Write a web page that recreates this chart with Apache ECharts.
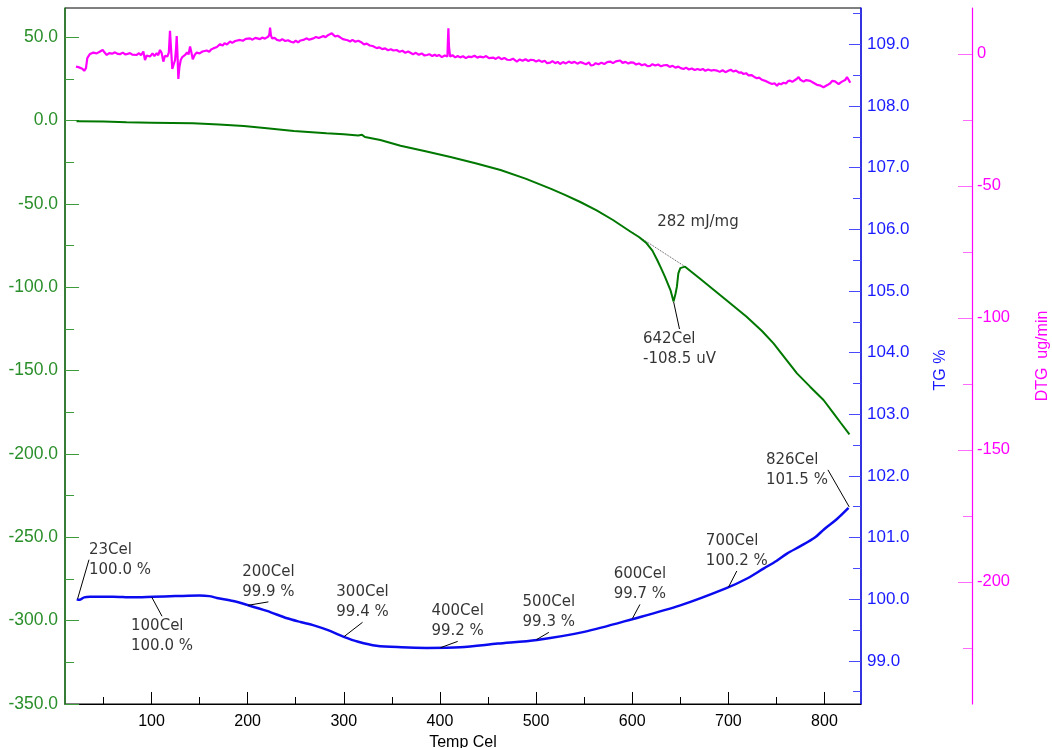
<!DOCTYPE html>
<html>
<head>
<meta charset="utf-8">
<script src="https://cdn.jsdelivr.net/npm/echarts@6/dist/echarts.min.js"></script>
<style>
html,body{margin:0;padding:0;background:#fff;}
#chart{width:1052px;height:748px;}
</style>
</head>
<body>
<div id="chart"></div>
<script>
// ---------- data ----------
const xTicks = [100, 200, 300, 400, 500, 600, 700, 800];
const xMinorTicks = [50, 150, 250, 350, 450, 550, 650, 750];
const dtaTicks = [-350, -300, -250, -200, -150, -100, -50, 0, 50];
const dtaMinorTicks = [-325, -275, -225, -175, -125, -75, -25, 25];
const tgTicks = [99, 100, 101, 102, 103, 104, 105, 106, 107, 108, 109];
const tgMinorTicks = [98.5, 99.5, 100.5, 101.5, 102.5, 103.5, 104.5, 105.5, 106.5, 107.5, 108.5, 109.5];
const dtgTicks = [-200, -150, -100, -50, 0];
const dtgMinorTicks = [-225, -175, -125, -75, -25];

// DTA (uV) vs Temp (Cel)
const dtaData = [
  [22,-0.3],[50,-0.5],[74,-1.0],[100,-1.2],[143,-1.6],[170,-2.3],[196,-3.2],[220,-4.5],[248,-6.2],
  [282,-7.6],[300,-8.2],[315,-8.9],[319,-8.5],[322,-9.8],[338,-11.6],[359,-15.0],[385,-18.3],
  [411,-21.8],[437,-25.5],[463,-29.6],[489,-34.8],[515,-40.8],[530,-44.5],[546,-48.8],[563,-53.8],[580,-59.6],
  [598,-66.5],[607,-69.8],[615,-73.6],[621,-78],[626,-83.6],[630,-88.5],[634,-93.6],[637,-97.8],
  [640,-102],[643,-108.5],[645,-104],[646.5,-99.6],[648,-91.6],[650,-88.5],[652,-87.4],[655,-87.6],
  [670,-94.6],[685,-101.6],[700,-108.6],[719,-117.6],[735,-126.2],[747,-133.6],[760,-143.2],
  [771.4,-151.6],[785,-159.6],[799,-167.6],[809.5,-175.6],[817,-181.4],[826,-188.2]
];
// peak integration baseline
const dtaBaseline = [[601,-67.4],[654,-87.2]];

// TG (%) vs Temp (Cel)
const tgData = [
  [22.2,100.00],[25,99.99],[30,100.03],[36,100.04],[60,100.04],[80,100.03],[102,100.04],[125,100.05],
  [150,100.06],[160,100.05],[168,100.02],[185,99.97],[199,99.91],[220,99.81],[241,99.69],[255,99.63],
  [268,99.58],[285,99.49],[300,99.39],[315,99.31],[334,99.245],[360,99.22],[386,99.21],[421,99.22],
  [460,99.28],[501,99.34],[550,99.47],[601,99.68],[650,99.90],[698,100.18],[720,100.34],[737,100.50],
  [750,100.62],[761,100.74],[775,100.86],[790,101.00],[800,101.14],[813,101.30],[825,101.48]
];

// DTG (ug/min) vs Temp (Cel)
const dtgData = [
  [21.4,-4.8],[24,-5.0],[26,-5.3],[28,-5.6],[30,-6.4],[31.8,-5.4],[33.2,-1.6],[36,0.0],[39.4,0.5],
  [43,0.2],[46,0.8],[49.2,1.5],[51,0.6],[53.4,-0.4],[56,0.3],[59,0.1],[62,0.6],[65,0.0],[67.2,-0.1],
  [70,0.5],[73,-0.2],[75,0.4],[77.6,0.3],[80,-0.3],[82,0.2],[84.6,-0.4],[87,0.3],[89,-0.5],[91.5,0.9],
  [93.2,-2.3],[95,-0.6],[98.4,-1.0],[101,0.2],[103,-0.8],[105.4,0.3],[107,-0.5],[108.8,1.5],[110.5,0.4],
  [112.3,-2.9],[114,-0.7],[116.4,-1.0],[118,0.5],[119.2,8.8],[120.3,2],[121.6,-5.7],[123,-4],[124.5,-2.3],
  [125.5,2],[126.2,6.8],[127,0],[127.9,-9.5],[129,-5],[130.4,-2.3],[132,-1.2],[134.9,-0.4],[137,0.6],
  [138.5,-0.2],[140.1,2.8],[141.5,0.5],[142.9,-2.0],[145,-0.3],[147,0.5],[150,0.2],[153,0.9],[155,0.4],
  [157.4,1.3],[160,0.8],[162,1.7],[164.3,2.1],[166,1.5],[168,2.6],[171.3,3.7],[174,3.2],[176,4.1],
  [178.5,3.6],[181.7,4.7],[184,4.2],[187,4.9],[189,4.4],[192.1,5.3],[195,5.0],[198,5.7],[200,5.3],
  [202.5,5.9],[205,5.4],[208,6.1],[210,5.5],[212.9,5.6],[215,6.2],[218,5.8],[221.6,6.6],[222.6,7.5],
  [223.3,10.0],[224.2,7.0],[225.4,5.9],[228,6.1],[230.5,5.3],[233.7,5.0],[236,5.6],[239,4.9],[242,5.2],
  [245,4.6],[247.6,4.3],[250,5.0],[252.5,4.4],[255,5.1],[258,5.3],[261,5.9],[264,5.4],[266,6.1],
  [268.4,5.9],[271,6.4],[274,6.0],[276,6.7],[278.8,6.8],[281,6.3],[283.5,7.1],[285.5,6.9],[287.5,7.8],
  [289,7.2],[291,6.6],[293.5,6.9],[296.2,6.3],[299,5.6],[301,6.0],[304,5.2],[306.6,4.7],[309,5.3],
  [312,4.6],[315,5.0],[318.7,4.3],[321,3.6],[324,3.9],[327,3.2],[330,3.0],[332,2.6],[334.3,2.2],
  [337,2.5],[340,1.8],[343,2.1],[346,1.4],[349,1.8],[351.6,1.3],[355,1.5],[358,0.8],[361,1.2],[364,0.4],
  [367,0.9],[369,0.5],[372,-0.1],[375,0.4],[378,-0.3],[381,0.2],[384,-0.6],[386.4,-0.4],[389,-0.1],
  [392,-0.8],[394.5,-0.3],[396.8,-0.8],[399,-0.4],[402,-1.2],[405,-0.6],[407.8,-1.0],[408.3,5.0],
  [408.8,9.7],[409.4,3.0],[410.6,-1.0],[413,-0.5],[416,-1.3],[418.5,-0.8],[421,-1.3],[424,-0.9],
  [427,-1.6],[430,-1.0],[433,-1.2],[436,-0.7],[439,-1.4],[441.8,-1.0],[445.3,-1.3],[448,-0.8],[451,-1.6],
  [453,-1.1],[455.7,-1.4],[458,-1.9],[461,-1.2],[464,-2.0],[467,-1.5],[470,-2.2],[473,-2.3],[476,-1.8],
  [478,-2.5],[480,-2.9],[483,-2.1],[486,-2.6],[489,-2.0],[492,-2.7],[494.5,-2.2],[497.3,-2.3],[500,-2.9],
  [503,-2.4],[506,-3.0],[509,-2.6],[511.5,-3.5],[514.7,-3.3],[517,-2.7],[520,-3.5],[522.5,-3.0],[525,-3.8],
  [528,-3.1],[531,-3.6],[534,-2.9],[537,-3.4],[540,-3.0],[543,-3.7],[546,-3.1],[549.3,-3.5],[552,-3.9],
  [555,-3.2],[557,-4.4],[559.7,-4.2],[562,-3.5],[565,-3.9],[568,-3.3],[571,-3.8],[574,-3.1],[577.1,-2.9],
  [580,-3.5],[583,-2.8],[585,-3.4],[587.5,-2.5],[590,-3.4],[593,-3.0],[596,-3.6],[598.5,-3.2],[601.3,-3.3],
  [604,-4.0],[607,-3.6],[610,-4.3],[613,-3.9],[616,-4.6],[618.7,-4.5],[621,-3.9],[624,-4.4],[627,-4.0],
  [630,-4.7],[633,-4.3],[636.1,-4.2],[639,-4.9],[642,-4.5],[645,-5.2],[648,-4.8],[650.5,-5.4],[653.4,-5.7],
  [656,-5.2],[659,-5.9],[662,-5.5],[665,-6.1],[668,-5.7],[670.8,-6.1],[673.5,-5.7],[676,-6.4],[679,-5.9],
  [682,-6.3],[685,-6.1],[688.1,-6.3],[691,-6.8],[694,-6.2],[697,-6.9],[700,-6.4],[702.5,-6.0],[705.4,-6.7],
  [708,-6.3],[711,-7.1],[713.5,-7.0],[715.8,-7.6],[718.5,-7.3],[721,-8.1],[724,-8.0],[727,-8.7],[729.8,-9.2],
  [732,-9.0],[735,-9.8],[737.5,-10.1],[740.2,-10.5],[743,-11.0],[745.5,-11.4],[748,-11.1],[750.6,-12.1],
  [752.5,-11.2],[755,-11.5],[757.5,-10.9],[760,-11.2],[762,-10.3],[764.4,-10.1],[766.5,-10.6],[768.5,-9.9],
  [771,-9.5],[773.1,-8.8],[775,-9.8],[778.3,-10.5],[781,-9.9],[783,-10.6],[785.2,-10.2],[788,-10.8],
  [790,-11.3],[792.2,-11.7],[795,-11.9],[797,-12.3],[799,-12.6],[801,-12.0],[803,-11.8],[806,-11.1],
  [808,-10.2],[809.5,-9.6],[811,-10.4],[813,-11.0],[814.7,-11.4],[816.5,-10.9],[818.2,-10.5],[820,-10.9],
  [821.5,-9.9],[823.4,-8.8],[825,-9.7],[826.8,-10.9]
];

// TG annotations
const tgMarkTemps = [23, 100, 200, 300, 400, 500, 600, 700, 826];
const tgMarkValues = [100.0, 100.04, 99.9, 99.39, 99.21, 99.34, 99.68, 100.19, 101.49];
const tgMarkLabels = ['23Cel\n100.0 %', '100Cel\n100.0 %', '200Cel\n99.9 %', '300Cel\n99.4 %', '400Cel\n99.2 %',
                      '500Cel\n99.3 %', '600Cel\n99.7 %', '700Cel\n100.2 %', '826Cel\n101.5 %'];
// DTA annotations
const dtaPeak = [643, -108.5];
const dtaPeakLabel = '642Cel\n-108.5 uV';
const dtaAreaAnchor = [627.5, -77.3];
const dtaAreaLabel = '282 mJ/mg';

// ---------- layout (label offsets in px) ----------
const tgLabelOffsets = [[12,-59],[-20,20],[-5,-43],[-7,-54],[-8,-46],[-13,-47],[-18,-54],[-22,-56],[-83,-57]];

const GREEN_AX = '#1f7d1f', GREEN_TXT = '#2a8f2a', GREEN_LINE = '#007800';
const BLUE = '#1a1aff', BLUE_LINE = '#0b0bf0';
const MAG = '#ff00ff';
const AXFONT = 'Liberation Sans, Arial, sans-serif';
const ANFONT = 'DejaVu Sans, Verdana, sans-serif';

const chart = echarts.init(document.getElementById('chart'));

function yMinor(extra) {
  return Object.assign({
    type: 'value', axisLine: {show: false, onZero: false}, axisLabel: {show: false}, splitLine: {show: false}
  }, extra);
}

const option = {
  animation: false,
  backgroundColor: '#fff',
  grid: {left: 65, right: 191, top: 8, bottom: 44, show: true, borderColor: '#000', borderWidth: 1,
         backgroundColor: 'transparent', outerBoundsMode: 'none'},
  xAxis: [
    {
      type: 'value', min: 10, max: 838, position: 'bottom',
      axisLine: {show: true, onZero: false, lineStyle: {color: '#000', width: 1}},
      axisTick: {show: true, inside: true, length: 12, customValues: xTicks, lineStyle: {color: '#000'}},
      axisLabel: {customValues: xTicks, margin: 10, color: '#000', fontSize: 16, fontFamily: AXFONT},
      splitLine: {show: false},
      name: 'Temp Cel', nameLocation: 'middle', nameGap: 27,
      nameTextStyle: {color: '#000', fontSize: 16, fontFamily: AXFONT}
    },
    {
      type: 'value', min: 10, max: 838, position: 'bottom',
      axisLine: {show: false, onZero: false},
      axisTick: {show: true, inside: true, length: 7, customValues: xMinorTicks, lineStyle: {color: '#000'}},
      axisLabel: {show: false}, splitLine: {show: false}
    }
  ],
  yAxis: [
    {
      type: 'value', position: 'left', min: -350, max: 67.6,
      axisLine: {show: true, onZero: false, lineStyle: {color: GREEN_AX, width: 1.5}},
      axisTick: {show: true, inside: true, length: 14, customValues: dtaTicks, lineStyle: {color: '#3c9c3c'}},
      axisLabel: {customValues: dtaTicks, margin: 7, color: GREEN_TXT, fontSize: 17.5, fontFamily: AXFONT,
                  formatter: v => v.toFixed(1)},
      splitLine: {show: false}
    },
    yMinor({position: 'left', min: -350, max: 67.6,
      axisTick: {show: true, inside: true, length: 9, customValues: dtaMinorTicks, lineStyle: {color: '#3c9c3c'}}}),
    {
      type: 'value', position: 'right', min: 98.3, max: 109.59,
      axisLine: {show: true, onZero: false, lineStyle: {color: BLUE, width: 1.5}},
      axisTick: {show: true, inside: true, length: 12, customValues: tgTicks, lineStyle: {color: '#4848ff'}},
      axisLabel: {customValues: tgTicks, margin: 6, color: BLUE, fontSize: 17, fontFamily: AXFONT,
                  formatter: v => v.toFixed(1)},
      splitLine: {show: false},
      name: 'TG %', nameLocation: 'middle', nameGap: 72, nameRotate: 90,
      nameTextStyle: {color: BLUE, fontSize: 16, fontFamily: AXFONT, padding: [0, 28, 0, 0]}
    },
    yMinor({position: 'right', min: 98.3, max: 109.59,
      axisTick: {show: true, inside: true, length: 8, customValues: tgMinorTicks, lineStyle: {color: '#4848ff'}}}),
    {
      type: 'value', position: 'right', offset: 111, min: -246.3, max: 17.4,
      axisLine: {show: true, onZero: false, lineStyle: {color: MAG, width: 1.2}},
      axisTick: {show: true, inside: true, length: 14, customValues: dtgTicks, lineStyle: {color: '#ff6cff'}},
      axisLabel: {customValues: dtgTicks, margin: 5, color: MAG, fontSize: 16.5, fontFamily: AXFONT,
                  formatter: v => String(v)},
      splitLine: {show: false},
      name: 'DTG  ug/min', nameLocation: 'middle', nameGap: 63, nameRotate: 90,
      nameTextStyle: {color: MAG, fontSize: 16, fontFamily: AXFONT}
    },
    yMinor({position: 'right', offset: 111, min: -246.3, max: 17.4,
      axisTick: {show: true, inside: true, length: 9, customValues: dtgMinorTicks, lineStyle: {color: '#ff6cff'}}})
  ],
  series: [
    {
      name: 'DTG', type: 'line', xAxisIndex: 0, yAxisIndex: 4, data: dtgData,
      showSymbol: false, symbol: 'none', lineStyle: {color: MAG, width: 2.2}, z: 2
    },
    {
      name: 'DTA', type: 'line', xAxisIndex: 0, yAxisIndex: 0, data: dtaData,
      showSymbol: false, symbol: 'none', lineStyle: {color: GREEN_LINE, width: 2}, z: 3
    },
    {
      name: 'DTA baseline', type: 'line', xAxisIndex: 0, yAxisIndex: 0, data: dtaBaseline,
      showSymbol: false, symbol: 'none', lineStyle: {color: '#555', width: 1, type: 'dotted'}, z: 2
    },
    {
      name: 'TG', type: 'line', xAxisIndex: 0, yAxisIndex: 2, data: tgData,
      showSymbol: false, symbol: 'none', smooth: 0.3, lineStyle: {color: BLUE_LINE, width: 2.5}, z: 3
    },
    {
      name: 'TG marks', type: 'scatter', xAxisIndex: 0, yAxisIndex: 2,
      data: tgMarkTemps.map((t, i) => [t, tgMarkValues[i]]),
      symbolSize: 1, itemStyle: {color: 'rgba(0,0,0,0)'}, z: 5,
      label: {show: true, position: [0, 0], align: 'left', verticalAlign: 'top',
              formatter: p => tgMarkLabels[p.dataIndex],
              color: '#000', fontSize: 15, lineHeight: 20, fontFamily: ANFONT},
      labelLine: {show: true, lineStyle: {color: '#000', width: 1}},
      labelLayout: p => ({dx: tgLabelOffsets[p.dataIndex][0], dy: tgLabelOffsets[p.dataIndex][1]})
    },
    {
      name: 'DTA peak', type: 'scatter', xAxisIndex: 0, yAxisIndex: 0,
      data: [dtaPeak],
      symbolSize: 1, itemStyle: {color: 'rgba(0,0,0,0)'}, z: 5,
      label: {show: true, position: [0, 0], align: 'left', verticalAlign: 'top',
              formatter: () => dtaPeakLabel,
              color: '#000', fontSize: 15, lineHeight: 20, fontFamily: ANFONT},
      labelLine: {show: true, lineStyle: {color: '#000', width: 1}},
      labelLayout: () => ({dx: -30, dy: 28})
    },
    {
      name: 'DTA area', type: 'scatter', xAxisIndex: 0, yAxisIndex: 0,
      data: [dtaAreaAnchor],
      symbolSize: 1, itemStyle: {color: 'rgba(0,0,0,0)'}, z: 5,
      label: {show: true, position: [0, 0], align: 'left', verticalAlign: 'top',
              formatter: () => dtaAreaLabel,
              color: '#000', fontSize: 15, lineHeight: 20, fontFamily: ANFONT},
      labelLayout: () => ({dx: -1, dy: -37})
    }
  ]
};
chart.setOption(option);
</script>
</body>
</html>
